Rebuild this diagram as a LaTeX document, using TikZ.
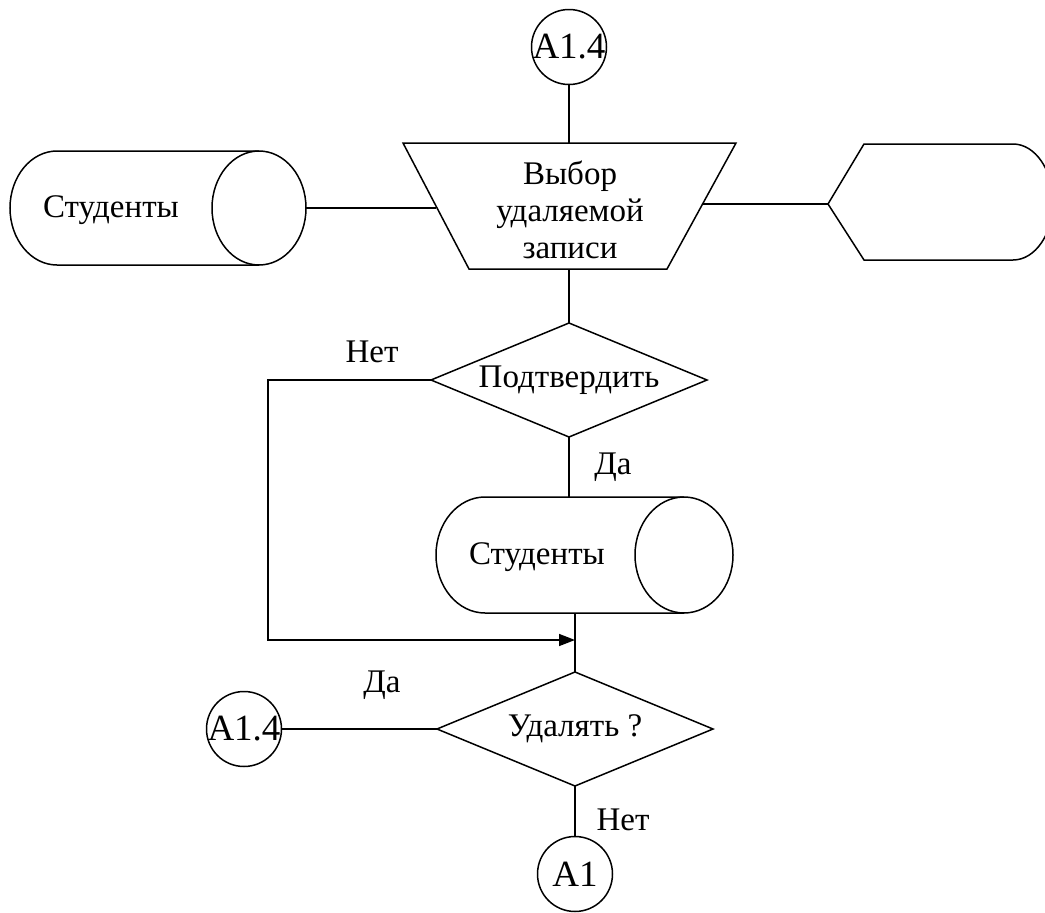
\documentclass[tikz,border=0pt]{standalone}
\usepackage{fontspec}
\setmainfont{Liberation Serif}
\usetikzlibrary{shapes.geometric,arrows.meta,calc}
\begin{document}
\begin{tikzpicture}[x=1pt,y=-1pt]
\tikzset{
  base/.style={draw, line width=1.5pt, inner sep=0pt, outer sep=0pt,
    font=\fontsize{33}{37}\selectfont},
  conn/.style={base, circle, minimum size=75pt, font=\fontsize{37}{40}\selectfont},
  decide/.style={base, diamond, aspect=2.4, minimum width=276pt, minimum height=114pt},
  lbl/.style={inner sep=0pt, font=\fontsize{33}{37}\selectfont},
  link/.style={line width=1.5pt},
}
\useasboundingbox (0,0) rectangle (1045,913);
\clip (0,0) rectangle (1045,913);

% manual operation (inverted trapezoid)
\coordinate (tl) at (403,143);
\coordinate (tr2) at (736,143);
\coordinate (br) at (667,269);
\coordinate (bl) at (469,269);
\draw[link] (tl) -- (tr2) -- (br) -- (bl) -- cycle;
\coordinate (tw) at ($(tl)!0.5!(bl)$);
\coordinate (te) at ($(tr2)!0.5!(br)$);
\node[lbl, align=center] (tr) at (570,210) {Выбор\\удаляемой\\записи};

\node[conn] (c1) at (569,47) {\makebox[0pt]{A1.4}};

% stored data "Студенты" (upper)
\coordinate (s1) at (259,208);
\draw[link] (259,151) -- (57,151)
  arc[start angle=270, end angle=90, x radius=47, y radius=57]
  -- (259,265);
\draw[link] (s1) ellipse[x radius=47, y radius=57];
\coordinate (s1e) at (306,208);
\node[lbl] (s1t) at (111,210) {Студенты};

% display output on the right
\coordinate (dp) at (828,204);
\draw[link] (dp) -- (864,144) -- (1013,144)
  arc[start angle=-90, end angle=90, x radius=40, y radius=58]
  -- (864,260) -- cycle;

\node[decide] (d1) at (569,380) {\makebox[0pt]{Подтвердить}};

% stored data "Студенты" (lower)
\coordinate (s2) at (684,555);
\draw[link] (684,497) -- (485,497)
  arc[start angle=270, end angle=90, x radius=49, y radius=58]
  -- (684,613);
\draw[link] (s2) ellipse[x radius=49, y radius=58];
\coordinate (s2n) at (569,497);
\coordinate (s2s) at (575,613);
\node[lbl] (s2t) at (537,557) {Студенты};

\node[decide] (d2) at (575,729) {\makebox[0pt]{Удалять ?}};
\node[conn] (c2) at (244,729) {\makebox[0pt]{A1.4}};
\node[conn] (c3) at (575,874) {\makebox[0pt]{A1}};

\coordinate (jn) at (575,640);
\coordinate (loopx) at (268,0);

% flow lines
\draw[link] (c1.south) -- (c1.south |- tl);
\draw[link] (d1.north |- bl) -- (d1.north);
\draw[link] (s1e) -- (s1e -| tw);
\draw[link] (dp -| te) -- (dp);
\draw[link] (d1.south) -- (s2n);
\draw[link] (s2s) -- (d2.north);
\draw[link, -{Triangle[length=16pt, width=12pt]}]
  (d1.west) -- (loopx |- d1.west) |- (jn);
\draw[link] (d2.west) -- (c2);
\draw[link] (d2.south) -- (c3);

% branch labels
\node[lbl] (no1) at (372,352) {Нет};
\node[lbl] (yes1) at (613,467) {Да};
\node[lbl] (yes2) at (382,685) {Да};
\node[lbl] (no2) at (623,820) {Нет};
\end{tikzpicture}
\end{document}
